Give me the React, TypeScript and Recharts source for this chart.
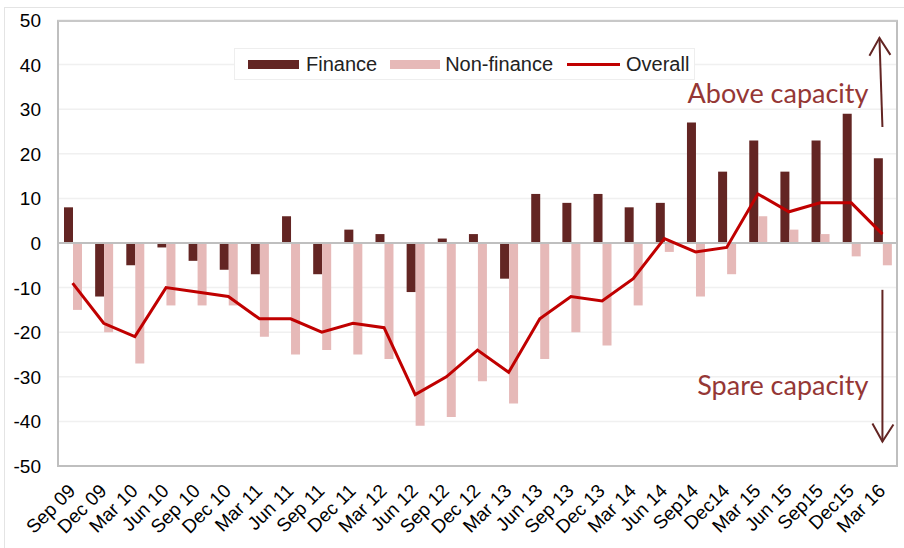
import React from "react";
import {
  Bar,
  ComposedChart,
  Line,
  XAxis,
  YAxis,
  CartesianGrid,
  ReferenceLine,
} from "recharts";

const quarters = [
  "Sep 09", "Dec 09", "Mar 10", "Jun 10", "Sep 10", "Dec 10", "Mar 11",
  "Jun 11", "Sep 11", "Dec 11", "Mar 12", "Jun 12", "Sep 12", "Dec 12",
  "Mar 13", "Jun 13", "Sep 13", "Dec 13", "Mar 14", "Jun 14", "Sep14",
  "Dec14", "Mar 15", "Jun 15", "Sep15", "Dec15", "Mar 16",
];

const finance = [
  8, -12, -5, -1, -4, -6, -7, 6, -7, 3, 2, -11, 1, 2, -8, 11, 9, 11, 8, 9,
  27, 16, 23, 16, 23, 29, 19,
];

const nonFinance = [
  -15, -20, -27, -14, -14, -14, -21, -25, -24, -25, -26, -41, -39, -31, -36,
  -26, -20, -23, -14, -2, -12, -7, 6, 3, 2, -3, -5,
];

const overall = [
  -9, -18, -21, -10, -11, -12, -17, -17, -20, -18, -19, -34, -30, -24, -29,
  -17, -12, -13, -8, 1, -2, -1, 11, 7, 9, 9, 2,
];

const yTicks = [-50, -40, -30, -20, -10, 0, 10, 20, 30, 40, 50];

const data = quarters.map((q, i) => ({
  q,
  finance: finance[i],
  nonFinance: nonFinance[i],
  overall: overall[i],
}));

const DARK = "#632523";
const PINK = "#E6B9B8";
const RED = "#C00000";
const NOTE = "#953735";
const FONT = "Liberation Sans, Arial, sans-serif";

const XTick = (props: any) => {
  const { x, y, payload } = props;
  const tx = x + 4;
  const ty = y + 18;
  return (
    <text
      x={tx}
      y={ty}
      textAnchor="end"
      transform={`rotate(-45, ${tx}, ${ty})`}
      fontSize={19}
      fontFamily={FONT}
      fill="#000"
    >
      {payload.value}
    </text>
  );
};

const YTick = (props: any) => {
  const { y, payload } = props;
  return (
    <text x={41} y={y} dy={7} textAnchor="end" fontSize={19} fontFamily={FONT} fill="#000">
      {payload.value}
    </text>
  );
};

const LegendBox = () => (
  <div
    style={{
      position: "absolute",
      left: 234,
      top: 48,
      width: 461,
      height: 32,
      display: "flex",
      alignItems: "center",
      background: "#fff",
      border: "1px solid #eeeeee",
      fontFamily: FONT,
      fontSize: 20,
      color: "#222",
      paddingLeft: 13,
      boxSizing: "border-box",
      whiteSpace: "nowrap",
    }}
  >
    <span style={{ width: 51, height: 9, background: DARK, display: "inline-block" }} />
    <span style={{ marginLeft: 7, marginRight: 13 }}>Finance</span>
    <span style={{ width: 50, height: 9, background: PINK, display: "inline-block" }} />
    <span style={{ marginLeft: 5, marginRight: 14 }}>Non-finance</span>
    <span style={{ width: 53, height: 3, background: RED, display: "inline-block" }} />
    <span style={{ marginLeft: 6 }}>Overall</span>
  </div>
);

const arrowShape = (dir: "up" | "down", label: string, labelDy: number) => (props: any) => {
  const { x1, y1, x2, y2 } = props;
  const tipX = dir === "up" ? x2 - 3 : x2;
  const tipY = y2;
  const s = dir === "up" ? 1 : -1;
  return (
    <g>
      <line x1={x1} y1={y1} x2={tipX} y2={tipY} stroke={DARK} strokeWidth={2} />
      <polyline
        points={`${tipX - 10},${tipY + s * 18} ${tipX},${tipY} ${tipX + 11},${tipY + s * 17}`}
        fill="none"
        stroke={DARK}
        strokeWidth={2}
      />
      <text
        x={x1 - 14}
        y={y1 + labelDy}
        textAnchor="end"
        fontSize={27}
        fontFamily="Lato, Open Sans, sans-serif"
        fill={NOTE}
      >
        {label}
      </text>
    </g>
  );
};

export default function App() {
  return (
    <div style={{ position: "absolute", left: 0, top: 0, width: 904, height: 548, background: "#fff" }}>
      <div
        style={{
          position: "absolute",
          left: 4,
          top: 7,
          width: 900,
          height: 541,
          borderTop: "1px solid #e4e4e4",
          borderLeft: "1px solid #e4e4e4",
        }}
      />
      <ComposedChart
        width={904}
        height={548}
        data={data}
        margin={{ top: 20, right: 6, left: 0, bottom: 0 }}
        barGap={0}
        style={{ position: "absolute", left: 0, top: 0 }}
      >
        <CartesianGrid vertical={false} stroke="#f0f0f0" strokeWidth={1.5} />
        <XAxis
          dataKey="q"
          interval={0}
          height={82}
          tickLine={false}
          axisLine={false}
          tick={<XTick />}
        />
        <YAxis
          domain={[-50, 50]}
          ticks={yTicks}
          width={57}
          tickLine={false}
          axisLine={false}
          tick={<YTick />}
          interval={0}
        />
        <ReferenceLine y={0} stroke="#bfbfbf" strokeWidth={2} />
        <Bar dataKey="finance" fill={DARK} barSize={9} isAnimationActive={false} />
        <Bar dataKey="nonFinance" fill={PINK} barSize={9} isAnimationActive={false} />
        <Line
          dataKey="overall"
          stroke={RED}
          strokeWidth={3}
          dot={false}
          type="linear"
          isAnimationActive={false}
        />
        <ReferenceLine
          segment={[
            { x: "Mar 16", y: 26 },
            { x: "Mar 16", y: 46 },
          ]}
          ifOverflow="visible"
          shape={arrowShape("up", "Above capacity", -24)}
        />
        <ReferenceLine
          segment={[
            { x: "Mar 16", y: -10.5 },
            { x: "Mar 16", y: -44.5 },
          ]}
          ifOverflow="visible"
          shape={arrowShape("down", "Spare capacity", 105)}
        />
      </ComposedChart>
      <LegendBox />
      <div
        style={{
          position: "absolute",
          left: 57,
          top: 20,
          width: 841,
          height: 447,
          border: "2px solid #bfbfbf",
          borderTop: "2px solid #c8c8c8",
          boxSizing: "border-box",
          pointerEvents: "none",
        }}
      />
    </div>
  );
}
